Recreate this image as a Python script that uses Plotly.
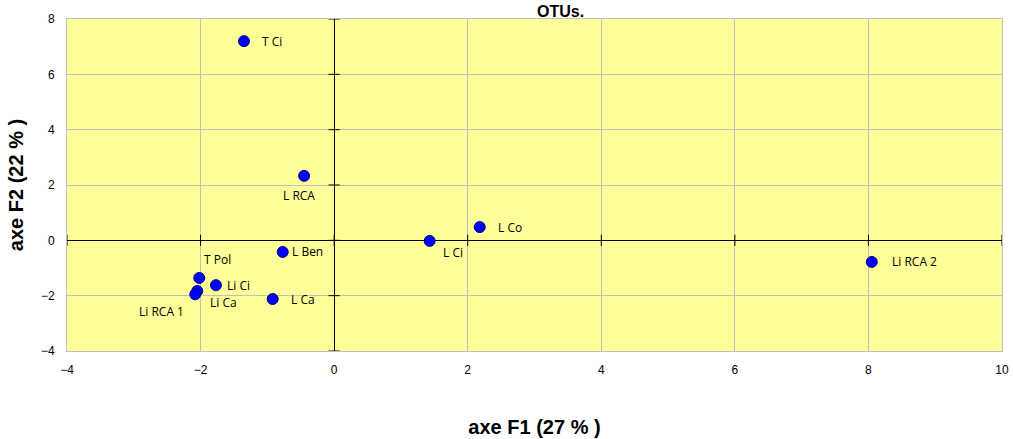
import plotly.graph_objects as go

# Data
names = ["T Ci", "L RCA", "L Ben", "T Pol", "Li Ci", "Li Ca", "Li RCA 1", "L Ca", "L Ci", "L Co", "Li RCA 2"]
f1 = [-1.35, -0.45, -0.77, -2.02, -1.77, -2.05, -2.08, -0.92, 1.43, 2.18, 8.05]
f2 = [7.2, 2.33, -0.42, -1.36, -1.62, -1.83, -1.95, -2.12, -0.02, 0.48, -0.78]
x_ticks = [-4, -2, 0, 2, 4, 6, 8, 10]
y_ticks = [-4, -2, 0, 2, 4, 6, 8]

# label placement (pixels): (xanchor, xshift, yshift)
label_pos = {
    "T Ci": ("left", 16, 0),
    "L RCA": ("center", -5, -20),
    "L Ben": ("left", 7, 0),
    "T Pol": ("center", 18, 18),
    "Li Ci": ("left", 9, 0),
    "Li Ca": ("left", 11, -12),
    "Li RCA 1": ("right", -9, -17),
    "L Ca": ("left", 16, -1),
    "L Ci": ("center", 23, -12),
    "L Co": ("left", 16, 0),
    "Li RCA 2": ("left", 18, 0),
}

fig = go.Figure()

# tick marks on the zero axes
fig.add_trace(go.Scatter(x=[0] * len(y_ticks), y=y_ticks, mode="markers",
                         marker=dict(symbol="line-ew", size=8, line=dict(color="black", width=1)),
                         hoverinfo="skip", showlegend=False, cliponaxis=False))
fig.add_trace(go.Scatter(x=x_ticks, y=[0] * len(x_ticks), mode="markers",
                         marker=dict(symbol="line-ns", size=8, line=dict(color="black", width=1)),
                         hoverinfo="skip", showlegend=False, cliponaxis=False))

fig.add_trace(go.Scatter(
    x=f1, y=f2, mode="markers", text=names,
    marker=dict(color="#0000ff", size=11, line=dict(color="#000080", width=1)),
    showlegend=False,
))

for n, x, y in zip(names, f1, f2):
    xa, xs, ys = label_pos[n]
    fig.add_annotation(x=x, y=y, text=n, showarrow=False, xanchor=xa,
                       xshift=xs, yshift=ys,
                       font=dict(family="Open Sans", size=12, color="#000000"))

fig.add_annotation(text="<b>OTUs.</b>", xref="paper", yref="paper", x=0.528, y=1.0,
                   xanchor="center", yanchor="bottom", yshift=-3, showarrow=False,
                   font=dict(family="Liberation Sans", size=16, color="black"))

fig.update_layout(
    width=1013, height=439,
    margin=dict(l=67, r=11, t=19, b=88),
    paper_bgcolor="white",
    plot_bgcolor="#ffff99",
    font=dict(family="Liberation Sans", size=12, color="black"),
)
fig.update_xaxes(range=[-4, 10], tickvals=x_ticks, showgrid=True, gridcolor="#c0c0c0",
                 gridwidth=1, zeroline=True, zerolinecolor="black", zerolinewidth=1,
                 showline=True, linecolor="#c0c0c0", mirror=True, ticks="",
                 automargin=False, ticklabelstandoff=8, ticklabeloverflow="allow",
                 tickfont=dict(size=12, family="Liberation Sans"),
                 title=dict(text="<b>axe F1 (27 % )</b>", font=dict(size=20), standoff=43))
fig.update_yaxes(range=[-4, 8], tickvals=y_ticks, showgrid=True, gridcolor="#c0c0c0",
                 gridwidth=1, zeroline=True, zerolinecolor="black", zerolinewidth=1,
                 showline=True, linecolor="#c0c0c0", mirror=True, ticks="",
                 automargin=False, ticklabelstandoff=9,
                 tickfont=dict(size=12, family="Liberation Sans"),
                 title=dict(text="<b>axe F2 (22 % )</b>", font=dict(size=20), standoff=11))

fig.write_html("out.html", config={"displayModeBar": False},
               post_script="document.body.style.margin='0';document.body.style.overflow='hidden';")
